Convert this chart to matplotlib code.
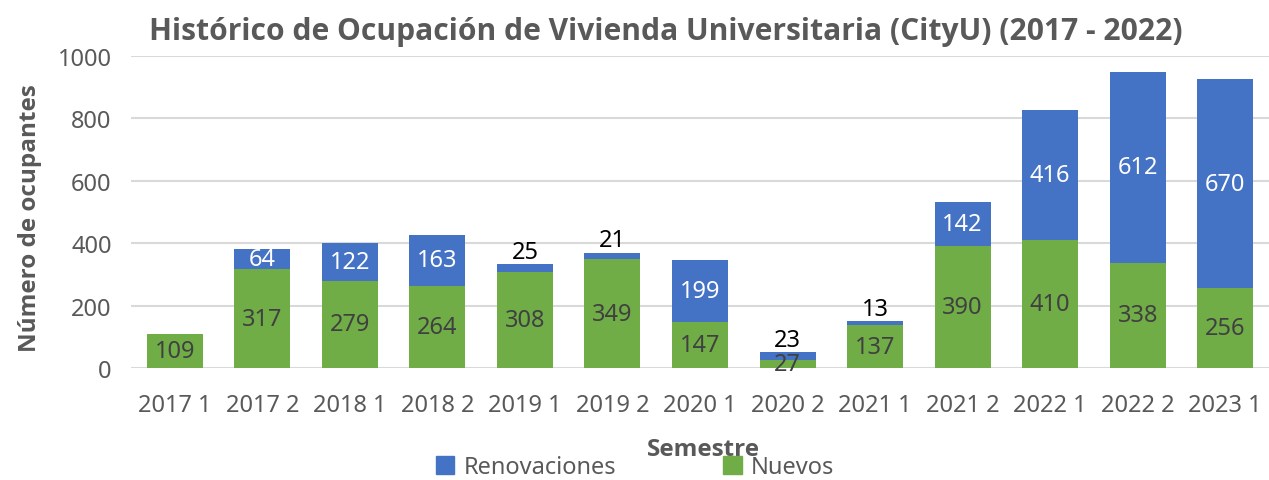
import numpy as np
import matplotlib
matplotlib.use("Agg")
import matplotlib.pyplot as plt
from matplotlib.patches import Patch

plt.rcParams['font.family'] = ['Noto Sans', 'DejaVu Sans']
negrita = ['Open Sans', 'Lato', 'DejaVu Sans']

# Ocupación por semestre
semestres = ["2017 1", "2017 2", "2018 1", "2018 2", "2019 1", "2019 2", "2020 1",
             "2020 2", "2021 1", "2021 2", "2022 1", "2022 2", "2023 1"]
nuevos = [109, 317, 279, 264, 308, 349, 147, 27, 137, 390, 410, 338, 256]
renovaciones = [0, 64, 122, 163, 25, 21, 199, 23, 13, 142, 416, 612, 670]

azul = "#4472C4"
verde = "#70AD47"
gris = "#595959"

fig = plt.figure(figsize=(12.69, 4.81), dpi=100)
ax = fig.add_axes([131 / 1269, 1 - 369 / 481, 1 - 131 / 1269, (369 - 57) / 481])

x = np.arange(len(semestres))
ancho = 0.64
ax.bar(x, nuevos, ancho, color=verde, label="Nuevos", zorder=2)
ax.bar(x, renovaciones, ancho, bottom=nuevos, color=azul,
       label="Renovaciones", zorder=2)

# etiquetas de valores
for i in range(len(semestres)):
    n = nuevos[i]
    r = renovaciones[i]
    ax.text(x[i], n / 2, str(n), ha="center", va="center", fontsize=17,
            color="#404040", zorder=3)
    if r == 0:
        continue
    if r < 50:
        # segmentos pequeños: etiqueta encima de la barra
        ax.text(x[i], n + r + 20, str(r), ha="center", va="baseline",
                fontsize=17, color="black", zorder=3)
    else:
        ax.text(x[i], n + r / 2, str(r), ha="center", va="center", fontsize=17,
                color="white", zorder=3)

ax.set_xlim(-0.5, len(semestres) - 0.5)
ax.set_ylim(0, 1000)
ax.set_yticks(range(0, 1001, 200))
ax.set_xticks(x)
ax.set_xticklabels(semestres)
ax.tick_params(axis="both", length=0, labelsize=17, labelcolor=gris)
ax.tick_params(axis="x", pad=18)
ax.tick_params(axis="y", pad=14)
ax.grid(axis="y", color="#D9D9D9", linewidth=1.5, zorder=0)
for s in ax.spines.values():
    s.set_visible(False)

fig.text(666 / 1269, 1 - 32 / 481,
         "Histórico de Ocupación de Vivienda Universitaria (CityU) (2017 - 2022)",
         ha="center", va="center", fontsize=21.6, fontweight="bold", color=gris,
         family=negrita)
fig.text(30 / 1269, 1 - 218 / 481, "Número de ocupantes", rotation=90,
         ha="center", va="center", fontsize=17.5, fontweight="bold", color=gris,
         family=negrita)
fig.text(703 / 1269, 1 - 450 / 481, "Semestre", ha="center", va="center",
         fontsize=17.5, fontweight="bold", color=gris, family=negrita)

handles = [Patch(color=azul), Patch(color=verde)]
fig.legend(handles, ["Renovaciones", "Nuevos"], loc="center",
           bbox_to_anchor=(635 / 1269, 1 - 468 / 481), ncol=2, frameon=False,
           fontsize=17, labelcolor=gris, handlelength=0.8, handleheight=0.8,
           handletextpad=0.4, columnspacing=4.5)

fig.savefig("out.png", dpi=100)
